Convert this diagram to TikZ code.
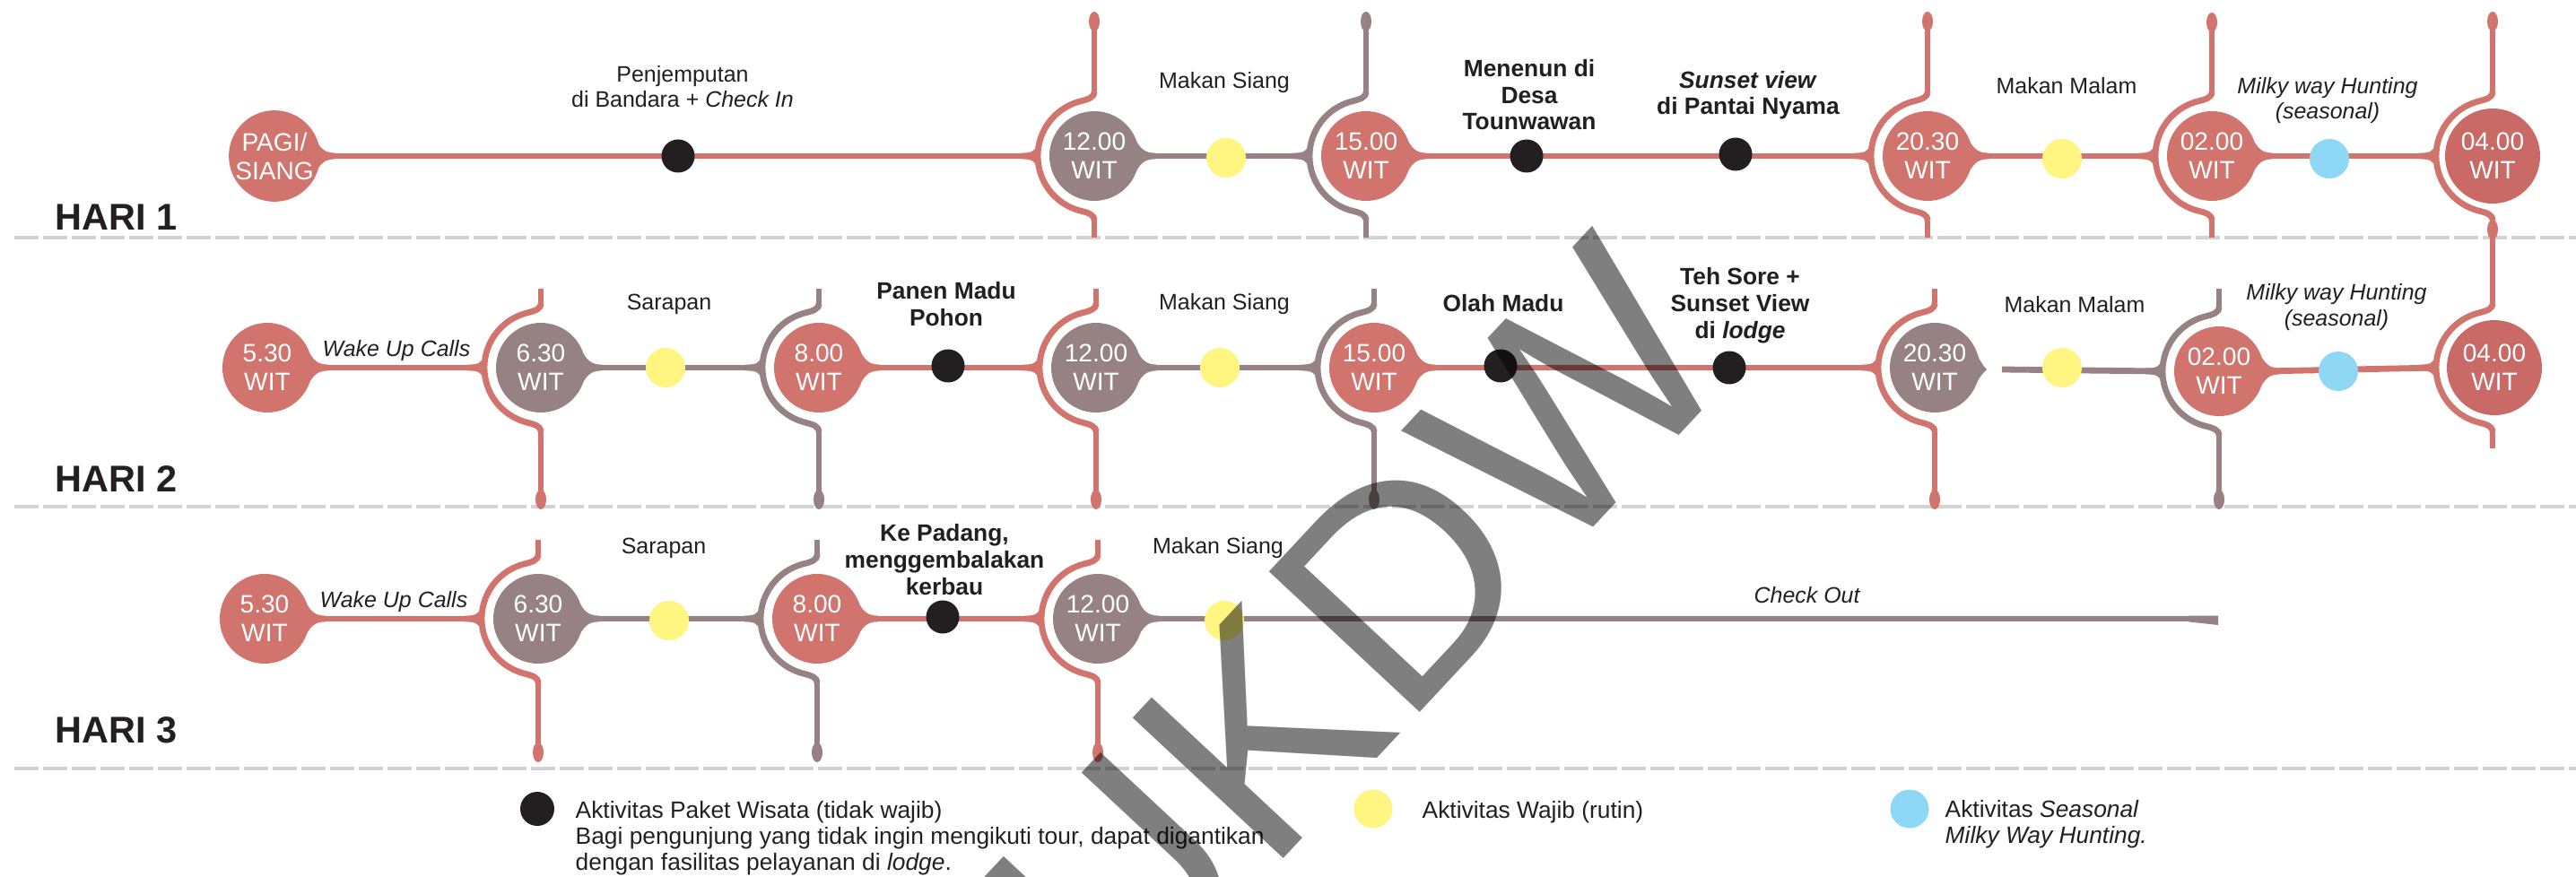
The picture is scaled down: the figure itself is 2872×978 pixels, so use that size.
\documentclass[tikz,border=0pt]{standalone}
\usepackage{fontspec}
\setmainfont{Liberation Sans}
\usetikzlibrary{calc}
\pgfdeclarelayer{bg}
\pgfsetlayers{bg,main}
\definecolor{tred}{RGB}{209,116,109}
\definecolor{tredd}{RGB}{201,106,103}
\definecolor{tgrey}{RGB}{150,130,130}
\definecolor{tyel}{RGB}{255,245,128}
\definecolor{tblue}{RGB}{142,216,246}
\definecolor{tkInk}{RGB}{35,31,32}
\definecolor{tkDash}{RGB}{211,211,213}
\tikzset{
  tc/.style={circle, inner sep=0pt, minimum size=10mm, text=white, align=center, font=\fontsize{8}{9.1}\selectfont},
  kdot/.style={circle, fill=tkInk, minimum size=3.7mm, inner sep=0pt},
  ydot/.style={circle, fill=tyel, minimum size=4.4mm, inner sep=0pt},
  bdot/.style={circle, fill=tblue, minimum size=4.4mm, inner sep=0pt},
  lbl/.style={inner sep=0pt, align=center, anchor=base, text=tkInk, font=\fontsize{7.1}{8.2}\selectfont},
  blbl/.style={inner sep=0pt, align=center, anchor=base, text=tkInk, font=\fontsize{7.5}{8.5}\selectfont\bfseries},
  leg/.style={inner sep=0pt, align=left, anchor=base west, text=tkInk, font=\fontsize{7.5}{8.2}\selectfont},
  hari/.style={inner sep=0pt, anchor=base west, text=tkInk, font=\fontsize{11.8}{12}\selectfont\bfseries},
  tl/.style={draw=#1, line width=0.68mm},
  dashline/.style={draw=tkDash, line width=0.47mm, dash pattern=on 2.7mm off 0.5mm},
  wmark/.style={inner sep=0pt, anchor=base west, rotate=47, text=black, text opacity=0.5, font=\fontsize{95}{95}\selectfont}
}
% bracket: cx, cy, colour, top (relative), bottom (relative)
\newcommand{\tlBrk}[5]{%
  \begin{scope}[shift={(#1,#2)}]
    \draw[#3, line width=0.55mm] (0,#4) -- (0,-72);
    \draw[#3, line width=0.55mm] (0,72) -- (0,#5);
    \draw[#3, line width=0.68mm] (0,-72) .. controls (0,-65) and (-6,-63.5) .. (-18,-60.4)
      .. controls (-44.7,-52.4) and (-63,-27.9) .. (-63,0)
      .. controls (-63,27.9) and (-44.7,52.4) .. (-18,60.4)
      .. controls (-6,63.5) and (0,65) .. (0,72);
    \fill[#3] (-64,-13) .. controls (-66,-5) and (-70,-3.4) .. (-82,-3.4) -- (-82,3.4)
      .. controls (-70,3.4) and (-66,5) .. (-64,13) -- cycle;
  \end{scope}}
% flare from circle into outgoing line
\newcommand{\tlFlare}[2]{%
  \begin{scope}[shift={(#1.center)}]
    \fill[#2] (44,-22) .. controls (51,-8) and (56,-3.4) .. (68,-3.4) -- (68,3.4)
      .. controls (56,3.4) and (51,8) .. (44,22) -- cycle;
  \end{scope}}
\newcommand{\tlBulb}[3]{\fill[#3] (#1,#2) ellipse [x radius=6, y radius=11];}
\begin{document}
\begin{tikzpicture}[x=0.1mm, y=-0.1mm]
\useasboundingbox (0,0) rectangle (2872,978);
\clip (0,0) rectangle (2872,978);

\begin{pgfonlayer}{bg}
  \fill[white] (0,0) rectangle (2872,978);
  \draw[dashline] (16,265) -- (2872,265);
  \draw[dashline] (16,565) -- (2872,565);
  \draw[dashline] (16,857) -- (2872,857);
\end{pgfonlayer}

% ---------- Row 1 ----------
\node[tc, fill=tred] (r1a) at (306,174) {PAGI/\\SIANG};
\node[tc, fill=tgrey] (r1b) at (1220,174) {12.00\\WIT};
\node[tc, fill=tred] (r1c) at (1523,174) {15.00\\WIT};
\node[tc, fill=tred] (r1d) at (2149,174) {20.30\\WIT};
\node[tc, fill=tred] (r1e) at (2466,174) {02.00\\WIT};
\node[tc, fill=tredd, minimum size=10.6mm] (r1f) at (2779,174) {04.00\\WIT};

\node[kdot] (k11) at (756,174) {};
\node[ydot] (y11) at (1367,176) {};
\node[kdot] (k12) at (1702,174) {};
\node[kdot] (k13) at (1935,172) {};
\node[ydot] (y12) at (2299,177) {};
\node[bdot] (c11) at (2597,177) {};

\node[lbl] (t1) at (761,120) {Penjemputan\\di Bandara + \textit{Check In}};
\node[lbl] (t2) at (1365,99) {Makan Siang};
\node[blbl] (t3) at (1705,145) {Menenun di\\Desa\\Tounwawan};
\node[blbl] (t4) at (1949,128) {\textit{Sunset view}\\di Pantai Nyama};
\node[lbl] (t5) at (2304,105) {Makan Malam};
\node[lbl] (t6) at (2595,133) {\textit{Milky way Hunting}\\\textit{(seasonal)}};

% ---------- Row 2 ----------
\node[tc, fill=tred] (r2a) at (298,410) {5.30\\WIT};
\node[tc, fill=tgrey] (r2b) at (603,410) {6.30\\WIT};
\node[tc, fill=tred] (r2c) at (913,410) {8.00\\WIT};
\node[tc, fill=tgrey] (r2d) at (1222,410) {12.00\\WIT};
\node[tc, fill=tred] (r2e) at (1532,410) {15.00\\WIT};
\node[tc, fill=tgrey] (r2f) at (2157,410) {20.30\\WIT};
\node[tc, fill=tred] (r2g) at (2474,414) {02.00\\WIT};
\node[tc, fill=tredd, minimum size=10.6mm] (r2h) at (2781,410) {04.00\\WIT};

\node[ydot] (y21) at (742,410) {};
\node[kdot] (k21) at (1057,408) {};
\node[ydot] (y22) at (1360,410) {};
\node[kdot] (k22) at (1673,408) {};
\node[kdot] (k23) at (1928,410) {};
\node[ydot] (y23) at (2299,410) {};
\node[bdot] (c21) at (2607,414) {};

\node[lbl] (u1) at (442,397) {\textit{Wake Up Calls}};
\node[lbl] (u2) at (746,345) {Sarapan};
\node[blbl] (u3) at (1055,363) {Panen Madu\\Pohon};
\node[lbl] (u4) at (1365,345) {Makan Siang};
\node[blbl] (u5) at (1676,347) {Olah Madu};
\node[blbl] (u6) at (1940,377) {Teh Sore +\\Sunset View\\di \textit{lodge}};
\node[lbl] (u7) at (2313,348) {Makan Malam};
\node[lbl] (u8) at (2605,363) {\textit{Milky way Hunting}\\\textit{(seasonal)}};

% ---------- Row 3 ----------
\node[tc, fill=tred] (r3a) at (295,690) {5.30\\WIT};
\node[tc, fill=tgrey] (r3b) at (600,690) {6.30\\WIT};
\node[tc, fill=tred] (r3c) at (911,690) {8.00\\WIT};
\node[tc, fill=tgrey] (r3d) at (1224,690) {12.00\\WIT};

\node[ydot] (y31) at (746,692) {};
\node[kdot] (k31) at (1051,688) {};
\node[ydot] (y32) at (1365,692) {};

\node[lbl] (v1) at (439,677) {\textit{Wake Up Calls}};
\node[lbl] (v2) at (740,617) {Sarapan};
\node[blbl] (v3) at (1053,663) {Ke Padang,\\menggembalakan\\kerbau};
\node[lbl] (v4) at (1358,617) {Makan Siang};
\node[lbl] (v5) at (2015,672) {\textit{Check Out}};

% ---------- Day labels ----------
\node[hari] (h1) at (61,257) {HARI 1};
\node[hari] (h2) at (61,548) {HARI 2};
\node[hari] (h3) at (61,828) {HARI 3};

% ---------- Legend ----------
\node[kdot, minimum size=3.8mm] (lk) at (599,902) {};
\node[ydot, minimum size=4.3mm] (ly) at (1531,902) {};
\node[bdot, minimum size=4.3mm] (lb) at (2129,902) {};
\node[leg] (lkt) at (641,970) {Aktivitas Paket Wisata (tidak wajib)\\Bagi pengunjung yang tidak ingin mengikuti tour, dapat digantikan\\dengan fasilitas pelayanan di \textit{lodge}.};
\node[leg] (lyt) at (1585,912) {Aktivitas Wajib (rutin)};
\node[leg] (lbt) at (2168,940) {Aktivitas \textit{Seasonal}\\\textit{Milky Way Hunting.}};

% ---------- connectors, brackets ----------
\begin{pgfonlayer}{bg}
  % row 1
  \coordinate (r1bL) at ($(r1b)+(-64,0)$);
  \coordinate (r1cL) at ($(r1c)+(-64,0)$);
  \coordinate (r1dL) at ($(r1d)+(-64,0)$);
  \coordinate (r1eL) at ($(r1e)+(-64,0)$);
  \coordinate (r1fL) at ($(r1f)+(-64,0)$);
  \draw[tl=tred] (r1a.east) -- (k11.center) -- (r1bL);
  \draw[tl=tgrey] (r1b.east) -- (r1cL);
  \draw[tl=tred] (r1c.east) -- (r1dL);
  \draw[tl=tred] (r1d.east) -- (r1eL);
  \draw[tl=tred] (r1e.east) -- (r1fL);
  \tlFlare{r1a}{tred}\tlFlare{r1b}{tgrey}\tlFlare{r1c}{tred}\tlFlare{r1d}{tred}\tlFlare{r1e}{tred}
  \tlBrk{1220}{174}{tred}{-150}{91}
  \tlBrk{1523}{174}{tgrey}{-150}{91}
  \tlBrk{2149}{174}{tred}{-150}{91}
  \tlBrk{2466}{174}{tred}{-150}{91}
  \tlBrk{2779}{174}{tred}{-150}{130}
  \tlBulb{1220}{24}{tred}\tlBulb{1523}{24}{tgrey}\tlBulb{2149}{24}{tred}
  \tlBulb{2466}{25}{tred}\tlBulb{2779}{24}{tred}\tlBulb{2779}{256}{tred}
  % row 2
  \coordinate (r2bL) at ($(r2b)+(-64,0)$);
  \coordinate (r2cL) at ($(r2c)+(-64,0)$);
  \coordinate (r2dL) at ($(r2d)+(-64,0)$);
  \coordinate (r2eL) at ($(r2e)+(-64,0)$);
  \coordinate (r2fL) at ($(r2f)+(-64,0)$);
  \coordinate (r2gL) at ($(r2g)+(-64,0)$);
  \coordinate (r2hL) at ($(r2h)+(-64,0)$);
  \coordinate (r2fgap) at (2232,412);
  \draw[tl=tred] (r2a.east) -- (r2bL);
  \draw[tl=tgrey] (r2b.east) -- (r2cL);
  \draw[tl=tred] (r2c.east) -- (r2dL);
  \draw[tl=tgrey] (r2d.east) -- (r2eL);
  \draw[tl=tred] (r2e.east) -- (r2fL);
  \draw[tl=tgrey] (r2fgap) -- (r2gL);
  \draw[tl=tred] (r2g.east) -- (r2hL);
  \tlFlare{r2a}{tred}\tlFlare{r2b}{tgrey}\tlFlare{r2c}{tred}\tlFlare{r2d}{tgrey}
  \tlFlare{r2e}{tred}\tlFlare{r2g}{tred}
  \begin{scope}[shift={(r2f.center)}]
    \fill[tgrey] (44,-22) .. controls (50,-8) and (54,-2) .. (58,2) .. controls (54,6) and (50,10) .. (44,22) -- cycle;
  \end{scope}
  \tlBrk{603}{410}{tred}{-88}{147}
  \tlBrk{913}{410}{tgrey}{-88}{147}
  \tlBrk{1222}{410}{tred}{-88}{147}
  \tlBrk{1532}{410}{tgrey}{-88}{147}
  \tlBrk{2157}{410}{tred}{-88}{147}
  \tlBrk{2474}{414}{tgrey}{-92}{143}
  \tlBrk{2779}{410}{tred}{-115}{90}
  \tlBulb{603}{557}{tred}\tlBulb{913}{557}{tgrey}\tlBulb{1222}{557}{tred}
  \tlBulb{1532}{557}{tgrey}\tlBulb{2157}{557}{tred}\tlBulb{2474}{557}{tgrey}
  % row 3
  \coordinate (r3bL) at ($(r3b)+(-64,0)$);
  \coordinate (r3cL) at ($(r3c)+(-64,0)$);
  \coordinate (r3dL) at ($(r3d)+(-64,0)$);
  \coordinate (coEnd) at (2473,690);
  \draw[tl=tgrey] (r3d.east) -- (coEnd);
  \draw[tl=tred] (r3a.east) -- (r3bL);
  \draw[tl=tgrey] (r3b.east) -- (r3cL);
  \draw[tl=tred] (r3c.east) -- (r3dL);
  \fill[tgrey] (2440,686.6) -- (2473,686.6) -- (2473,697) -- (2440,693.4) -- cycle;
  \tlFlare{r3a}{tred}\tlFlare{r3b}{tgrey}\tlFlare{r3c}{tred}\tlFlare{r3d}{tgrey}
  \tlBrk{600}{690}{tred}{-88}{149}
  \tlBrk{911}{690}{tgrey}{-88}{149}
  \tlBrk{1224}{690}{tred}{-88}{149}
  \tlBulb{600}{839}{tred}\tlBulb{911}{839}{tgrey}\tlBulb{1224}{839}{tred}
\end{pgfonlayer}

% ---------- watermark ----------
\node[wmark] (wm) at (1248,1154) {UKDW};
\end{tikzpicture}
\end{document}
